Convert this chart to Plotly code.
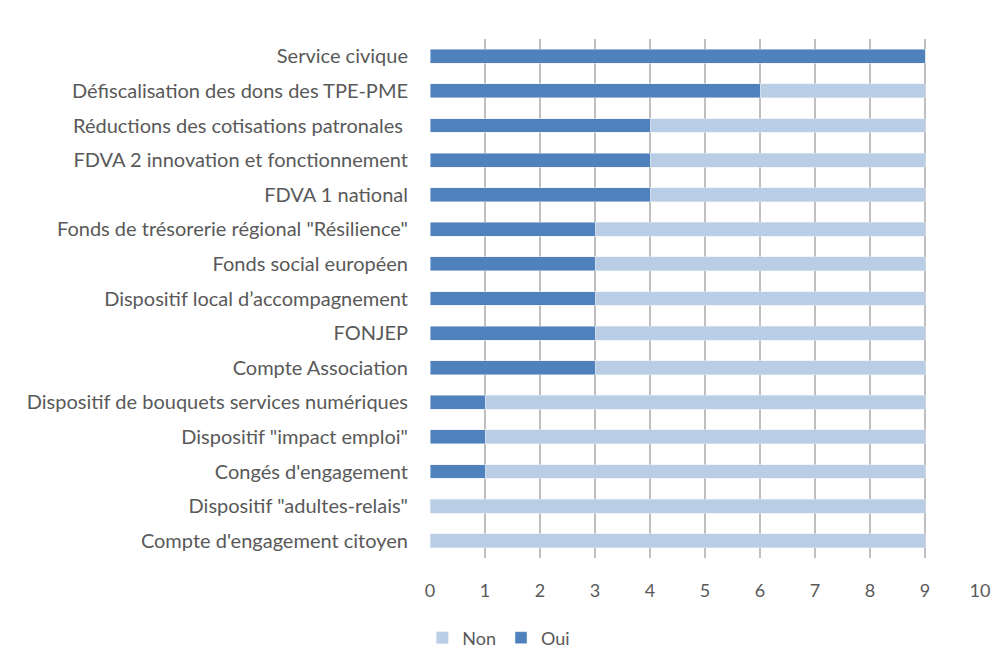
import plotly.graph_objects as go

categories = [
    "Service civique",
    "Défiscalisation des dons des TPE-PME",
    "Réductions des cotisations patronales ",
    "FDVA 2 innovation et fonctionnement",
    "FDVA 1 national",
    "Fonds de trésorerie régional \"Résilience\"",
    "Fonds social européen",
    "Dispositif local d’accompagnement",
    "FONJEP",
    "Compte Association",
    "Dispositif de bouquets services numériques",
    "Dispositif \"impact emploi\"",
    "Congés d'engagement",
    "Dispositif \"adultes-relais\"",
    "Compte d'engagement citoyen",
]
oui = [9, 6, 4, 4, 4, 3, 3, 3, 3, 3, 1, 1, 1, 0, 0]
non = [0, 3, 5, 5, 5, 6, 6, 6, 6, 6, 8, 8, 8, 9, 9]
x_ticks = list(range(0, 11))

# bottom-to-top order for plotly
cats_r = categories[::-1]
oui_r = oui[::-1]
non_r = non[::-1]

fig = go.Figure()
fig.add_trace(go.Bar(y=cats_r, x=oui_r, name="Oui", orientation="h",
                     marker=dict(color="#4F81BD"), width=0.4))
fig.add_trace(go.Bar(y=cats_r, x=non_r, name="Non", orientation="h",
                     marker=dict(color="#B9CDE5"), width=0.4))

font_family = "Lato, Open Sans, Liberation Sans, sans-serif"
fig.update_layout(
    barmode="stack",
    width=1004, height=668,
    margin=dict(l=430, r=24, t=39, b=105),
    paper_bgcolor="white", plot_bgcolor="white",
    font=dict(family=font_family, size=18, color="#595959"),
    showlegend=True,
    legend=dict(orientation="h", x=-0.014, y=-0.154, xanchor="left", yanchor="middle",
                font=dict(size=18, color="#595959")),
    xaxis=dict(range=[0, 10], tickvals=x_ticks, showgrid=True, gridcolor="#BFBFBF",
               gridwidth=2, zeroline=False, showline=False,
               ticks="outside", ticklen=16, tickcolor="white",
               tickfont=dict(size=18, color="#595959")),
    yaxis=dict(showgrid=False, zeroline=False, showline=False,
               ticks="outside", ticklen=17, tickcolor="white",
               tickfont=dict(size=20, color="#595959"),
               categoryorder="array", categoryarray=cats_r),
)

fig.write_html("out.html")
